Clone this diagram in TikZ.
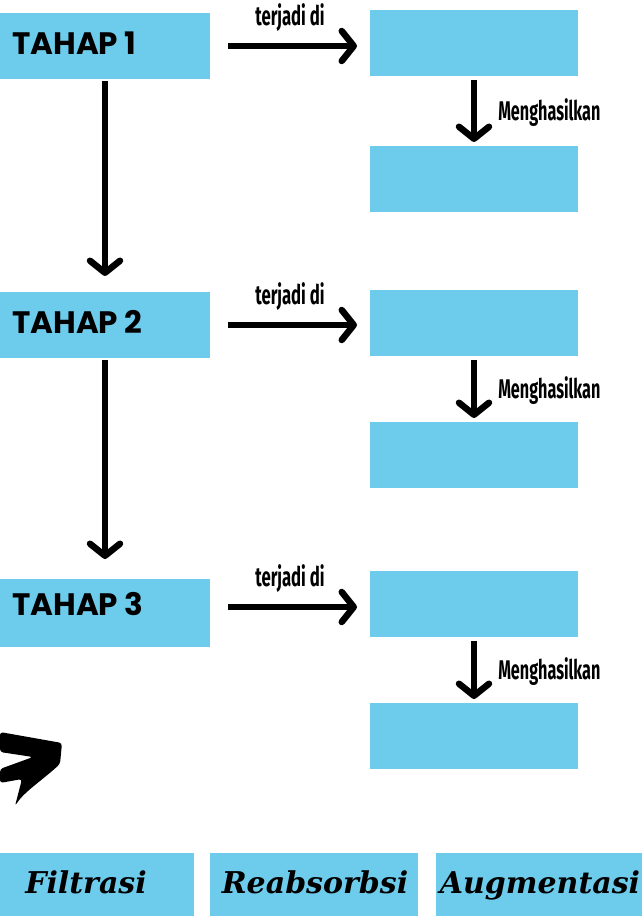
\documentclass[tikz,border=0pt]{standalone}
\usepackage{fontspec}
\usetikzlibrary{arrows.meta}
\newfontfamily\tahapfont{Poppins}
\newfontfamily\condfont{Fira Sans}
\newfontfamily\labfont{DejaVu Serif}
\definecolor{boxblue}{RGB}{109,203,235}
\begin{document}
\begin{tikzpicture}[x=1pt,y=-1pt,
  box/.style={fill=boxblue, draw=none, inner sep=0pt, outer sep=0pt},
  arr/.style={line width=6.5pt, -{Straight Barb[length=12pt,width=30pt,round]}, line cap=butt},
  tahap/.style={inner sep=0pt, anchor=base west, font=\tahapfont\bfseries\fontsize{31}{31}\selectfont},
  terjadi/.style={inner sep=0pt, anchor=base, font=\condfont\fontsize{27}{27}\selectfont},
  mengh/.style={inner sep=0pt, anchor=west, font=\condfont\fontsize{27}{27}\selectfont},
  lab/.style={inner sep=0pt, anchor=base, font=\labfont\bfseries\itshape\fontsize{30}{30}\selectfont}
]
\useasboundingbox (0,0) rectangle (642,916);
\fill[white] (0,0) rectangle (642,916);

% left boxes
\node[box, minimum width=210pt, minimum height=66pt] (t1) at (105,46) {};
\node[box, minimum width=210pt, minimum height=66pt] (t2) at (105,325) {};
\node[box, minimum width=210pt, minimum height=68pt] (t3) at (105,613) {};
\node[tahap] (t1l) at (12,54) {TAHAP 1};
\node[tahap] (t2l) at (12,333) {TAHAP 2};
\node[tahap] (t3l) at (12,615) {TAHAP 3};

% right boxes
\node[box, minimum width=208pt, minimum height=66pt] (r1a) at (474,43) {};
\node[box, minimum width=208pt, minimum height=66pt] (r1b) at (474,179) {};
\node[box, minimum width=208pt, minimum height=66pt] (r2a) at (474,323) {};
\node[box, minimum width=208pt, minimum height=66pt] (r2b) at (474,455) {};
\node[box, minimum width=208pt, minimum height=66pt] (r3a) at (474,604) {};
\node[box, minimum width=208pt, minimum height=66pt] (r3b) at (474,736) {};

% horizontal arrows
\draw[arr, shorten <=18pt, shorten >=13pt] (t1.east) -- (t1.east -| r1a.west)
  node[terjadi, midway, yshift=21pt] (lt1) {\scalebox{0.62}[1]{\bfseries terjadi di}};
\draw[arr, shorten <=18pt, shorten >=13pt] (t2.east) -- (t2.east -| r2a.west)
  node[terjadi, midway, yshift=21pt] (lt2) {\scalebox{0.62}[1]{\bfseries terjadi di}};
\draw[arr, shorten <=18pt, shorten >=13pt] ([yshift=6pt]t3.east) -- ([yshift=6pt]t3.east -| r3a.west)
  node[terjadi, midway, yshift=21pt] (lt3) {\scalebox{0.62}[1]{\bfseries terjadi di}};

% left vertical arrows
\draw[arr, shorten <=2pt, shorten >=16pt] (t1.south) -- (t2.north);
\draw[arr, shorten <=2pt, shorten >=20pt] (t2.south) -- (t3.north);

% right vertical arrows
\draw[arr, shorten <=4pt, shorten >=4pt] (r1a.south) -- (r1b.north)
  node[mengh, midway, xshift=21pt, yshift=-2pt] (m1) {\scalebox{0.6}[1]{\bfseries Menghasilkan}};
\draw[arr, shorten <=4pt, shorten >=4pt] (r2a.south) -- (r2b.north)
  node[mengh, midway, xshift=21pt, yshift=-2pt] (m2) {\scalebox{0.6}[1]{\bfseries Menghasilkan}};
\draw[arr, shorten <=4pt, shorten >=4pt] (r3a.south) -- (r3b.north)
  node[mengh, midway, xshift=21pt, yshift=-2pt] (m3) {\scalebox{0.6}[1]{\bfseries Menghasilkan}};

% hand-drawn arrow fragment
\fill[black, rounded corners=3pt] (0,732) -- (62,743) -- (60,764) .. controls (40,782) and (24,792) .. (15,806)
  -- (22,779) -- (0,783) -- (0,769) -- (33,757) -- (0,752) -- cycle;

% bottom boxes
\node[box, minimum width=194pt, minimum height=64pt] (bf) at (97,885) {};
\node[box, minimum width=208pt, minimum height=64pt] (br) at (314,885) {};
\node[box, minimum width=206pt, minimum height=64pt] (ba) at (539,885) {};
\node[lab] (bfl) at (86,893) {Filtrasi};
\node[lab] (brl) at (315,893) {Reabsorbsi};
\node[lab] (bal) at (540,893) {Augmentasi};
\end{tikzpicture}
\end{document}
